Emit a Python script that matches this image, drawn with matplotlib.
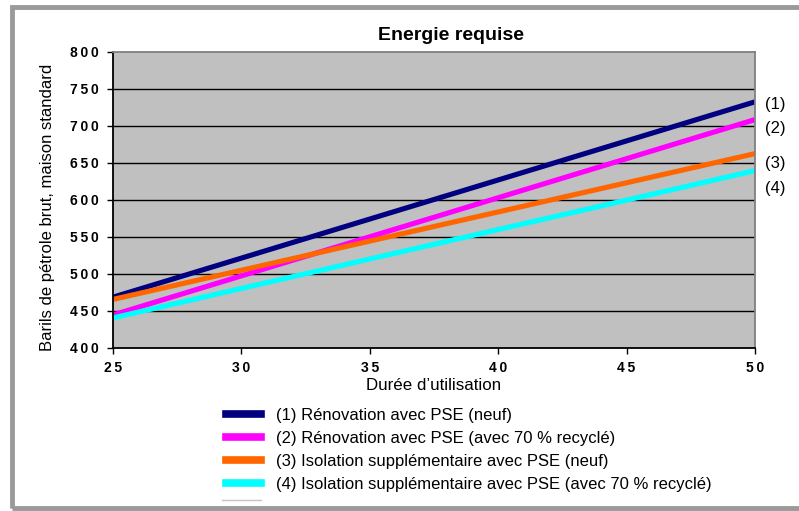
import matplotlib
matplotlib.use("Agg")
import matplotlib.pyplot as plt
from matplotlib.patches import Rectangle
from matplotlib.lines import Line2D

plt.rcParams['font.family'] = ['Liberation Sans', 'DejaVu Sans']

years = [25, 50]
s1 = [468, 732]
s2 = [444, 708]
s3 = [465, 662]
s4 = [440, 639]
series = [s1, s2, s3, s4]
names = ["(1) Rénovation avec PSE (neuf)",
         "(2) Rénovation avec PSE (avec 70 % recyclé)",
         "(3) Isolation supplémentaire avec PSE (neuf)",
         "(4) Isolation supplémentaire avec PSE (avec 70 % recyclé)"]
tags = ["(1)", "(2)", "(3)", "(4)"]
colors = ["#000080", "#FF00FF", "#FF6600", "#00FFFF"]
xticks = [25, 30, 35, 40, 45, 50]
yticks = [400, 450, 500, 550, 600, 650, 700, 750, 800]

W, H = 799, 511
fig = plt.figure(figsize=(W/100, H/100), dpi=100)
fig.patch.set_facecolor('white')

# outer frame
fig.add_artist(Rectangle((11.5/W, 1 - 508/H), (W + 20)/W, (508 - 7.5)/H,
                         transform=fig.transFigure, fill=False,
                         edgecolor='#9a9a9a', linewidth=3.5))

ax = fig.add_axes([113/W, 1 - 347.5/H, (755 - 113)/W, (347.5 - 51.5)/H])
ax.set_facecolor('#C0C0C0')
for s, c in zip(series, colors):
    ax.plot(years, s, color=c, linewidth=3.7, solid_capstyle='butt')
ax.set_xlim(25, 50)
ax.set_ylim(400, 800)
ax.set_xticks(xticks)
ax.set_yticks(yticks)
sp_ = '\u2009'
ax.set_xticklabels([sp_.join(str(v)) for v in xticks], fontsize=10, fontweight='bold')
ax.set_yticklabels([sp_.join(str(v)) for v in yticks], fontsize=10, fontweight='bold')
ax.tick_params(axis='both', direction='out', length=4, width=1, color='black')
ax.tick_params(axis='x', pad=6)
ax.tick_params(axis='y', pad=6)
for v in yticks[1:-1]:
    ax.axhline(v, color='black', linewidth=1, zorder=0.5)
ax.spines['left'].set_color('black')
ax.spines['bottom'].set_color('black')
ax.spines['top'].set_color('#808080')
ax.spines['right'].set_color('#808080')
for sp in ax.spines.values():
    sp.set_linewidth(1.3)

fig.text(434/W, 1 - 386/H, "Durée d’utilisation", fontsize=12.2, ha='center', va='center')
fig.text(48/W, 1 - 207/H, "Barils de pétrole brut, maison standard", fontsize=12,
         rotation=90, ha='center', va='center')
fig.text(451/W, 1 - 36/H, "Energie requise", fontsize=14, fontweight='bold',
         ha='center', va='center')

# right-side tags
tag_y = [104, 128, 163, 189]
for t, y in zip(tags, tag_y):
    fig.text(765/W, 1 - y/H, t, fontsize=12, va='center', ha='left')

# legend
handles = [Line2D([0], [0], color=c, linewidth=5.5) for c in colors]
leg = fig.legend(handles, names, loc='upper left',
                 bbox_to_anchor=(226/W, 1 - 408/H), frameon=False,
                 fontsize=12, handlelength=2.1, handletextpad=0.9,
                 labelspacing=0.48, borderpad=0, borderaxespad=0)
fig.add_artist(Line2D([222/W, 261/W], [1 - 500/H, 1 - 500/H],
                      transform=fig.transFigure, color='#c4c4c4', linewidth=1))

fig.savefig("out.png", dpi=100)
